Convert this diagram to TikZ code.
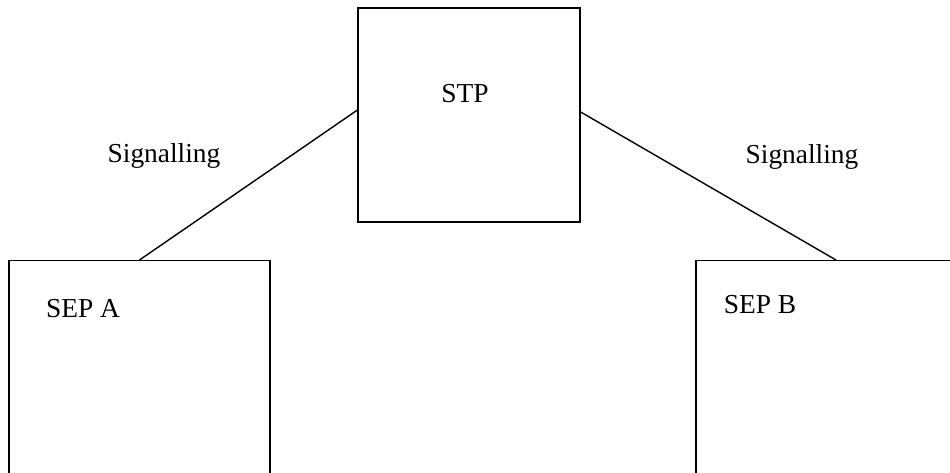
\documentclass[tikz,border=0pt]{standalone}
\usepackage{fontspec}
\setmainfont{Liberation Serif}

\begin{document}
\begin{tikzpicture}[x=0.02cm, y=-0.02cm,
    box/.style={draw, line width=0.8pt, inner sep=0pt},
    lbl/.style={font=\fontsize{15.6}{18}\selectfont, inner sep=0pt, anchor=base}]
    % Page area: the lower boxes run past its edges
    \useasboundingbox (0,0) rectangle (950,473);
    \clip (0,0) rectangle (950,473);

    % The three boxes
    \node[box, minimum width=4.44cm, minimum height=4.28cm] (stp) at (469,115) {};
    \node[box, minimum width=5.22cm, minimum height=5cm, anchor=north] (sepa) at (139.5,260) {};
    \node[box, minimum width=5.6cm, minimum height=5cm, anchor=north] (sepb) at (836,260) {};

    % Their names
    \node[lbl] (stplabel) at (465,103) {STP};
    \node[lbl] (sepalabel) at (83,317) {SEP A};
    \node[lbl] (sepblabel) at (760,313) {SEP B};

    % Signalling links
    \draw[line width=0.8pt] ([yshift=2.8pt]stp.west) -- (sepa.north);
    \draw[line width=0.8pt] ([yshift=1.7pt]stp.east) -- (sepb.north);
    \node[lbl] (siga) at (164,162) {Signalling};
    \node[lbl] (sigb) at (802,163) {Signalling};
\end{tikzpicture}
\end{document}
